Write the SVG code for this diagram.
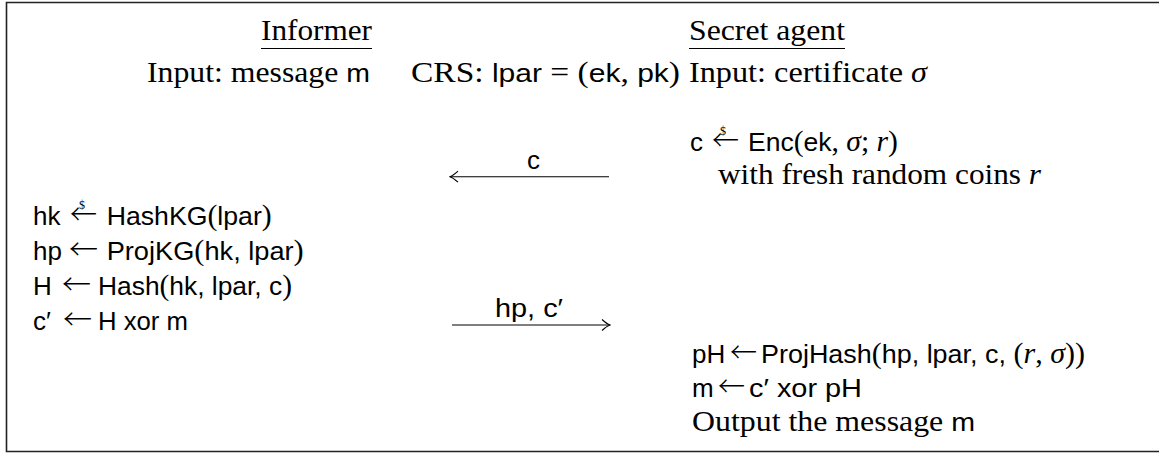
<svg xmlns="http://www.w3.org/2000/svg" width="1159" height="453" viewBox="0 0 1159 453">
<style>
.rm{font-family:"Liberation Serif",serif;font-size:29px;fill:#000}
.sf{font-family:"Liberation Sans",sans-serif;font-size:26px;fill:#000}
.it{font-family:"Liberation Serif",serif;font-size:29px;font-style:italic}
.r{font-family:"Liberation Serif",serif;font-size:29px}
.ar{font-family:"Noto Sans CJK SC",sans-serif;font-size:28px;font-weight:300;fill:#000}
.dol{font-family:"Liberation Serif",serif;font-size:12px;fill:#000}
.conn{stroke:#000;stroke-width:1.1;fill:none}
.ul{stroke:#000;stroke-width:1.1}
</style>
<defs>
<marker id="head" viewBox="-10 -7 11 14" refX="0" refY="0" markerWidth="11" markerHeight="14" markerUnits="userSpaceOnUse" orient="auto">
<path d="M-8,-5.5 Q-3,-1 0,0 Q-3,1 -8,5.5" fill="none" stroke="#000" stroke-width="1.1"/>
</marker>
</defs>
<rect width="1159" height="453" fill="#fff"/>
<path d="M1159,2.5 H6.5 V451.5 H1159" fill="none" stroke="#222" stroke-width="1.6"/>

<g id="informer">
<text class="rm" x="261" y="40" textLength="111" lengthAdjust="spacingAndGlyphs">Informer</text>
<line class="ul" x1="261" y1="48.5" x2="372" y2="48.5"/>
<text class="rm" x="147" y="82" textLength="223" lengthAdjust="spacingAndGlyphs">Input: message <tspan class="sf">m</tspan></text>
</g>

<g id="crs">
<text class="rm" x="411" y="82" textLength="269" lengthAdjust="spacingAndGlyphs">CRS: <tspan class="sf">lpar</tspan> = (<tspan class="sf">ek</tspan>, <tspan class="sf">pk</tspan>)</text>
</g>

<g id="secret-agent">
<text class="rm" x="689" y="40" textLength="156" lengthAdjust="spacingAndGlyphs">Secret agent</text>
<line class="ul" x1="689" y1="48.5" x2="845" y2="48.5"/>
<text class="rm" x="689" y="82" textLength="238" lengthAdjust="spacingAndGlyphs">Input: certificate <tspan class="it">σ</tspan></text>
</g>

<g id="encrypt">
<text class="sf" x="690" y="151">c</text>
<text class="ar" x="712" y="151" textLength="27" lengthAdjust="spacingAndGlyphs">←</text>
<text class="dol" x="720" y="135">$</text>
<text class="sf" x="748" y="151" textLength="150" lengthAdjust="spacingAndGlyphs">Enc<tspan class="r">(</tspan>ek<tspan class="r">, </tspan><tspan class="it">σ</tspan><tspan class="r">; </tspan><tspan class="it">r</tspan><tspan class="r">)</tspan></text>
<text class="rm" x="718" y="184" textLength="323" lengthAdjust="spacingAndGlyphs">with fresh random coins <tspan class="it">r</tspan></text>
</g>

<g id="informer-compute">
<text class="sf" x="33" y="225">hk</text>
<text class="ar" x="70" y="225" textLength="27" lengthAdjust="spacingAndGlyphs">←</text>
<text class="dol" x="79" y="209">$</text>
<text class="sf" x="106.7" y="225" textLength="165" lengthAdjust="spacingAndGlyphs">HashKG<tspan class="r">(</tspan>lpar<tspan class="r">)</tspan></text>

<text class="sf" x="33" y="260">hp</text>
<text class="ar" x="69" y="260" textLength="29" lengthAdjust="spacingAndGlyphs">←</text>
<text class="sf" x="106.7" y="260" textLength="197" lengthAdjust="spacingAndGlyphs">ProjKG<tspan class="r">(</tspan>hk, lpar<tspan class="r">)</tspan></text>

<text class="sf" x="33" y="295">H</text>
<text class="ar" x="62" y="295" textLength="29" lengthAdjust="spacingAndGlyphs">←</text>
<text class="sf" x="98" y="295" textLength="194" lengthAdjust="spacingAndGlyphs">Hash<tspan class="r">(</tspan>hk, lpar, c<tspan class="r">)</tspan></text>

<text class="sf" x="33" y="330">c′</text>
<text class="ar" x="63" y="330" textLength="29" lengthAdjust="spacingAndGlyphs">←</text>
<text class="sf" x="98" y="330" textLength="90" lengthAdjust="spacingAndGlyphs">H xor m</text>
</g>

<g id="agent-decrypt">
<text class="sf" x="692" y="363">pH</text>
<text class="ar" x="730" y="363" textLength="27" lengthAdjust="spacingAndGlyphs">←</text>
<text class="sf" x="761" y="363" textLength="324" lengthAdjust="spacingAndGlyphs">ProjHash<tspan class="r">(</tspan>hp, lpar, c, <tspan class="r">(</tspan><tspan class="it">r</tspan><tspan class="r">, </tspan><tspan class="it">σ</tspan><tspan class="r">))</tspan></text>

<text class="sf" x="692" y="397">m</text>
<text class="ar" x="718" y="397" textLength="27" lengthAdjust="spacingAndGlyphs">←</text>
<text class="sf" x="749" y="397" textLength="113" lengthAdjust="spacingAndGlyphs">c′ xor pH</text>

<text class="rm" x="692" y="431" textLength="283" lengthAdjust="spacingAndGlyphs">Output the message <tspan class="sf">m</tspan></text>
</g>

<g id="connectors">
<line class="conn" x1="609" y1="176.7" x2="450" y2="176.7" marker-end="url(#head)"/>
<text class="sf" x="527" y="169">c</text>
<line class="conn" x1="452" y1="325" x2="610" y2="325" marker-end="url(#head)"/>
<text class="sf" x="495" y="317" textLength="68" lengthAdjust="spacingAndGlyphs">hp, c′</text>
</g>
</svg>
